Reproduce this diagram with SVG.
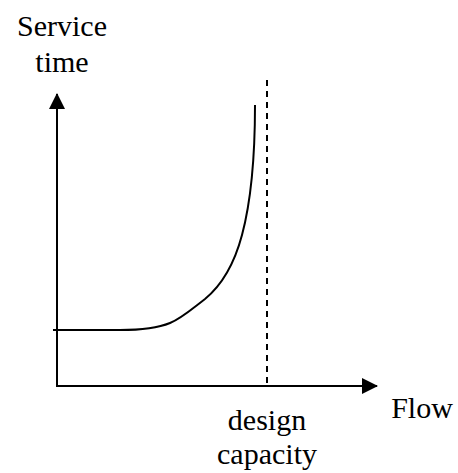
<svg xmlns="http://www.w3.org/2000/svg" width="458" height="473" viewBox="0 0 458 473">
<defs>
<marker id="ah" markerWidth="16" markerHeight="16" viewBox="0 0 16 16" refX="15" refY="8" orient="auto" markerUnits="userSpaceOnUse">
<path d="M0,0 L16,8 L0,16 Z" fill="#000"/>
</marker>
</defs>
<style>
text{font-size:30px;fill:#000;text-anchor:middle}
.ax{stroke:#000;stroke-width:2;fill:none}
</style>
<rect width="458" height="473" fill="#fff"/>
<g id="connectors">
<line class="ax" x1="57" y1="387" x2="57" y2="94" marker-end="url(#ah)"/>
<line class="ax" x1="56" y1="386" x2="377" y2="386" marker-end="url(#ah)"/>
<line class="ax" x1="267" y1="80" x2="267" y2="386" stroke-dasharray="6,5"/>
<path class="ax" d="M53,330 L120,330 C145,330 158,328 170,323 C182,318 193,308 205,299 C222,285 234,265 242,235 C250,205 255,160 255,105"/>
</g>
<g id="labels" font-family="Liberation Serif, DejaVu Serif, serif">
<g id="label-service"><text x="62" y="36">Service</text><text x="62" y="72">time</text></g>
<g id="label-flow"><text x="422" y="418">Flow</text></g>
<g id="label-design"><text x="267" y="430">design</text><text x="267" y="464">capacity</text></g>
</g>
</svg>
